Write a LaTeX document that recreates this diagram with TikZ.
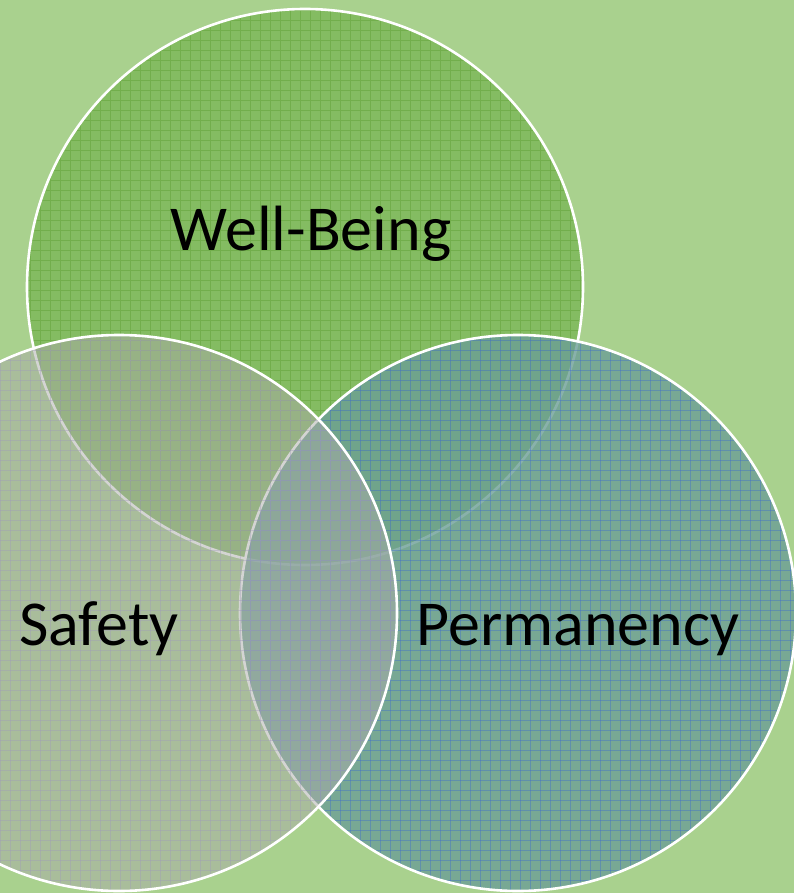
\documentclass[tikz,border=0pt]{standalone}
\usepackage{fontspec}
\setmainfont{Carlito}
\definecolor{bgc}{RGB}{169,209,142}
\definecolor{wbfill}{RGB}{132,188,98}
\definecolor{wbgrid}{RGB}{114,174,76}
\definecolor{pmfill}{RGB}{108,158,150}
\definecolor{pmgrid}{RGB}{68,114,200}
\definecolor{sffill}{RGB}{170,170,168}
\definecolor{sfgrid}{RGB}{160,155,185}
\tikzset{
  ring/.style={draw=white, line width=2.6pt},
  lbl/.style={font=\fontsize{64}{70}\selectfont, text=black, anchor=base, inner sep=0pt},
  gridline/.style={line width=0.6pt}
}
\newcommand{\mygrid}{%
  \foreach \gx in {0,10,...,800} {\draw (\gx,0) -- (\gx,893);}%
  \foreach \gy in {0,10,...,900} {\draw (0,\gy) -- (794,\gy);}%
}
\begin{document}
\begin{tikzpicture}[x=1pt,y=-1pt]
\fill[bgc] (0,0) rectangle (794,893);
\useasboundingbox (0,0) rectangle (794,893);
\coordinate (cw) at (305,287);
\coordinate (cp) at (518,613);
\coordinate (cs) at (119,613);
% Well-Being
\begin{scope}
  \clip (cw) circle (278);
  \fill[wbfill] (cw) circle (278);
  \begin{scope}[gridline, draw=wbgrid]
    \mygrid
  \end{scope}
\end{scope}
\draw[ring] (cw) circle (278);
% Permanency
\begin{scope}
  \clip (cp) circle (278);
  \fill[pmfill, opacity=0.8] (cp) circle (278);
  \begin{scope}[gridline, draw=pmgrid, opacity=0.45]
    \mygrid
  \end{scope}
\end{scope}
\draw[ring] (cp) circle (278);
% Safety
\begin{scope}
  \clip (cs) circle (278);
  \fill[sffill, opacity=0.5] (cs) circle (278);
  \begin{scope}[gridline, draw=sfgrid, opacity=0.4]
    \mygrid
  \end{scope}
\end{scope}
\draw[ring] (cs) circle (278);
% labels
\node[lbl] (wb) at (311,250) {Well-Being};
\node[lbl] (sf) at (99,645) {Safety};
\node[lbl] (pm) at (578,645) {Permanency};
\end{tikzpicture}
\end{document}
